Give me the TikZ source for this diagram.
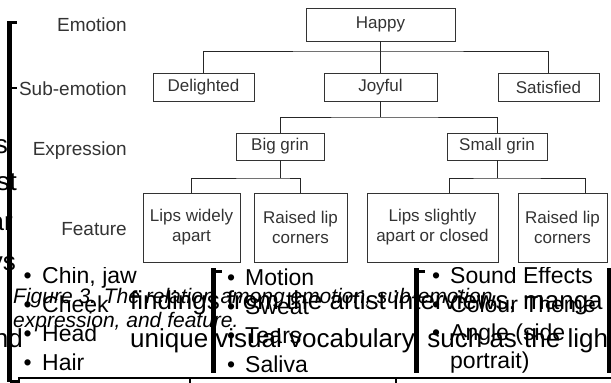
\documentclass[tikz,border=0pt]{standalone}
\usepackage{fontspec}
\setmainfont{Liberation Sans}
\begin{document}
\begin{tikzpicture}[x=1pt,y=-1pt,
  box/.style={draw=black!80, line width=0.9pt, inner sep=0pt, align=center, text=black!80, font=\fontsize{17}{20}\selectfont},
  lvl/.style={anchor=base east, inner sep=0pt, text=black!80, font=\fontsize{19}{22}\selectfont},
  link/.style={draw=black!85, line width=1pt},
  bar/.style={line width=4.5pt, black},
  tickmark/.style={line width=3pt, black},
  bodyr/.style={anchor=base east, inner sep=0pt, font=\fontsize{26}{30}\selectfont},
  bodyl/.style={anchor=base west, inner sep=0pt, font=\fontsize{26}{30}\selectfont},
  captext/.style={anchor=base west, inner sep=0pt, font=\itshape\fontsize{21}{24}\selectfont},
  item/.style={anchor=base west, inner sep=0pt, font=\fontsize{23}{26}\selectfont}]
\useasboundingbox (0,0) rectangle (611,383);
\clip (0,0) rectangle (611,383);

% level labels
\node[lvl] (lemo) at (127,31.5) {Emotion};
\node[lvl] (lsub) at (127,95) {Sub-emotion};
\node[lvl] (lexp) at (127,155) {Expression};
\node[lvl] (lfea) at (127,235) {Feature};

% tree boxes
\node[box, minimum width=149pt, minimum height=33pt] (happy) at (380.5,24.5) {Happy};
\node[box, minimum width=101pt, minimum height=28pt] (deli) at (203.5,87) {Delighted};
\node[box, minimum width=113pt, minimum height=28pt] (joy) at (380.5,87) {Joyful};
\node[box, minimum width=101pt, minimum height=28pt] (sat) at (548.5,87) {Satisfied};
\node[box, minimum width=88pt, minimum height=27pt] (big) at (280,146.5) {Big grin};
\node[box, minimum width=100pt, minimum height=27pt] (small) at (497,146.5) {Small grin};
\node[box, minimum width=97pt, minimum height=69pt] (lwa) at (191.5,227.5) {Lips widely\\apart};
\node[box, minimum width=93pt, minimum height=69pt] (rla) at (300.5,227.5) {Raised lip\\corners};
\node[box, minimum width=131pt, minimum height=69pt] (lsa) at (432.5,227.5) {Lips slightly\\apart or closed};
\node[box, minimum width=89pt, minimum height=69pt] (rlb) at (562.5,227.5) {Raised lip\\corners};

% connectors
\coordinate (h1) at (380.5,51);
\coordinate (j1) at (380.5,117);
\coordinate (b1) at (280,178);
\coordinate (s1) at (497,178);
\draw[link] (happy.south) -- (joy.north);
\draw[link] (deli.north) |- (h1) -| (sat.north);
\draw[link] (joy.south) -- (j1);
\draw[link] (big.north) |- (j1) -| (small.north);
\draw[link] (big.south) -- (b1);
\draw[link] (lwa.north) |- (b1) -| (rla.north);
\draw[link] (small.south) -- (s1);
\draw[link] ([xshift=16.5pt]lsa.north) |- (s1) -| ([xshift=22.5pt]rlb.north);

% body text fragments
\node[bodyr] (f1) at (8,153) {s};
\node[bodyr] (f2) at (17,190) {st};
\node[bodyr] (f3) at (13,230) {ar};
\node[bodyr] (f4) at (16,270) {ys};
\node[bodyr] (f5) at (23,347) {nd};
\node[bodyl] (b1t) at (130,309) {findings from the artist interviews, manga};
\node[bodyl] (b2t) at (130,347) {unique visual vocabulary, such as the ligh};

% caption
\node[captext] (c1) at (13,303) {Figure 3. The relation among emotion, sub-emotion,};
\node[captext] (c2) at (13,327) {expression, and feature.};

% bullet columns
\begin{scope}
\clip (18,267) rectangle (611,373);
\node[item] (i11) at (23.5,283) {\makebox[18.5pt][l]{•}Chin, jaw};
\node[item] (i12) at (23.5,312) {\makebox[18.5pt][l]{•}Cheek};
\node[item] (i13) at (23.5,341) {\makebox[18.5pt][l]{•}Head};
\node[item] (i14) at (23.5,370) {\makebox[18.5pt][l]{•}Hair};
\node[item] (i21) at (227,285) {\makebox[18pt][l]{•}Motion};
\node[item] (i22) at (227,314) {\makebox[18pt][l]{•}Sweat};
\node[item] (i23) at (227,343) {\makebox[18pt][l]{•}Tears};
\node[item] (i24) at (227,372) {\makebox[18pt][l]{•}Saliva};
\node[item] (i31) at (432,283) {\makebox[18pt][l]{•}Sound Effects};
\node[item] (i32) at (432,312) {\makebox[18pt][l]{•}Colour Theme};
\node[item] (i33) at (432,340) {\makebox[18pt][l]{•}Angle (side};
\node[item] (i34) at (450,368) {portrait)};
\end{scope}

% thick bars
\draw[bar] (9.5,21) -- (9.5,382);
\draw[tickmark] (7.5,22.5) -- (16.5,22.5);
\draw[line width=2pt] (11,88) -- (17,88);
\draw[tickmark] (9.5,381) -- (18,381);
\draw[bar] (213.5,268) -- (213.5,373);
\draw[tickmark] (213.5,271) -- (222,271);
\draw[bar] (416.5,268) -- (416.5,373);
\draw[tickmark] (416.5,271) -- (425,271);
\draw[bar] (609.5,268) -- (609.5,373);

% bottom table edge
\draw[line width=2pt] (18,377.5) -- (611,377.5);
\draw[line width=2pt] (19,377.5) -- (19,383);
\draw[line width=2pt] (190,377.5) -- (190,383);
\draw[line width=2pt] (396,377.5) -- (396,383);
\end{tikzpicture}
\end{document}
